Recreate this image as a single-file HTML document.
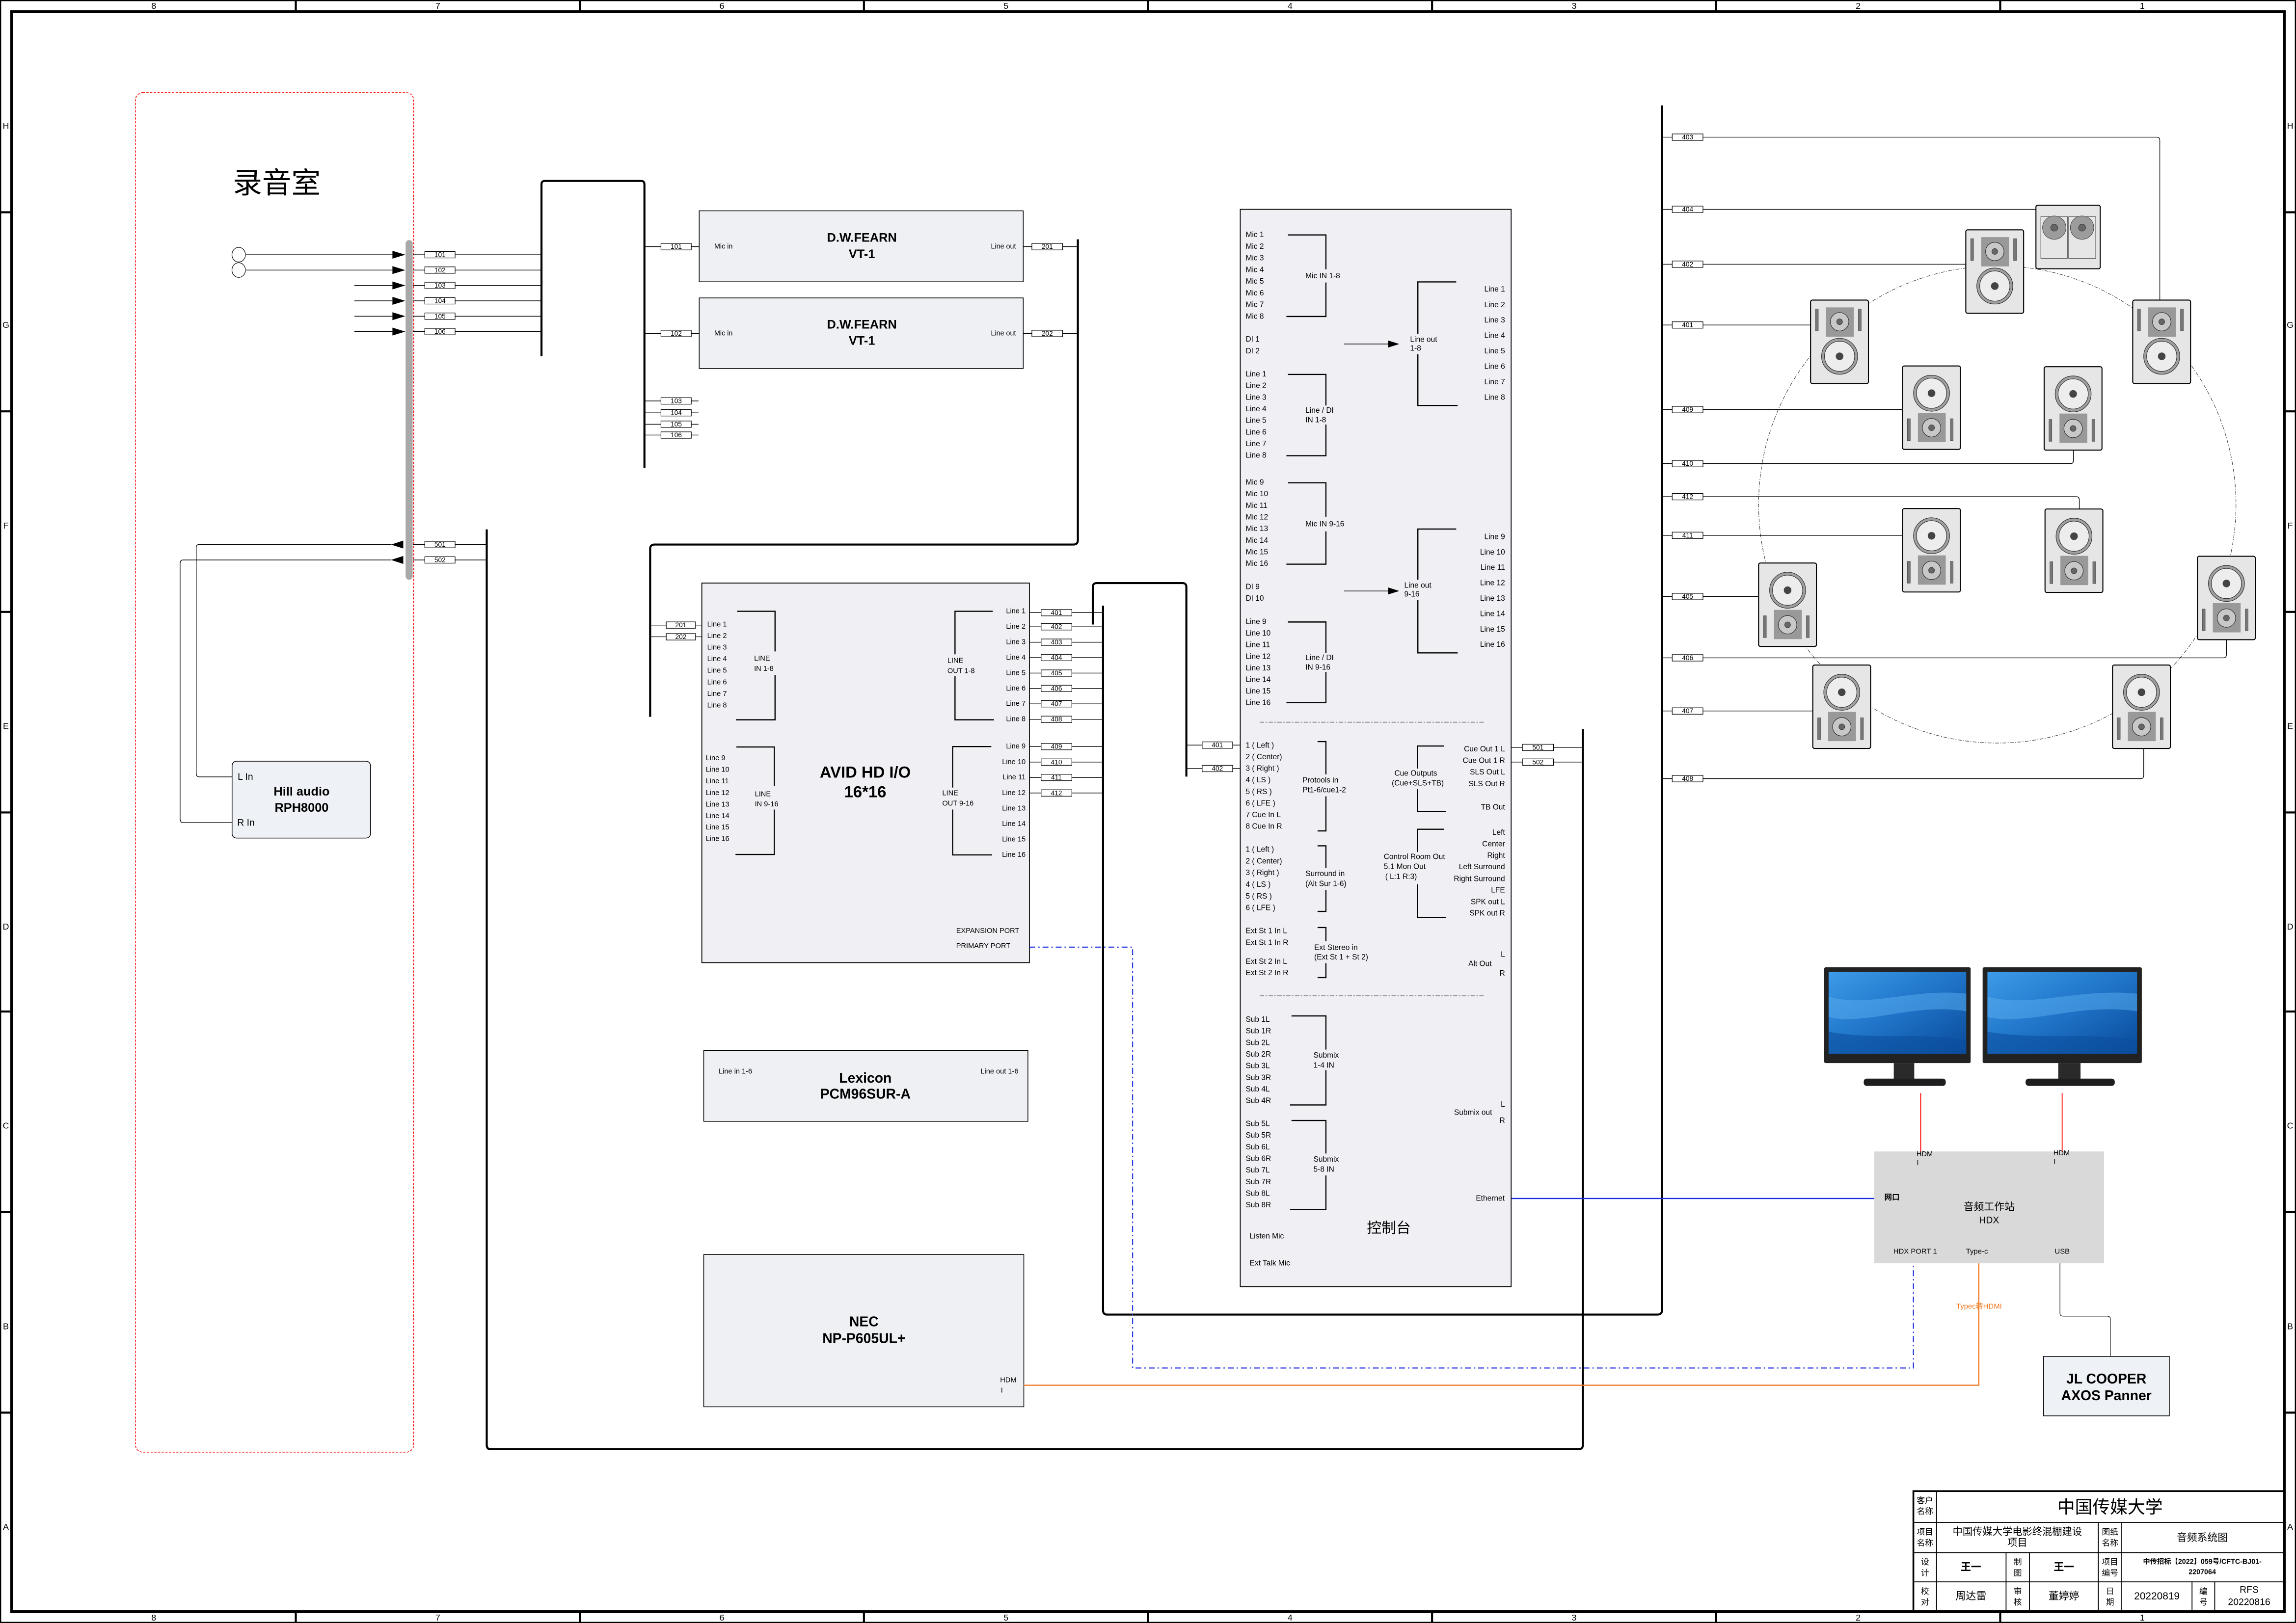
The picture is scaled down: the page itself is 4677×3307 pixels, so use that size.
<!DOCTYPE html>
<html><head><meta charset="utf-8"><style>
html,body{margin:0;padding:0;background:#fff;}
svg{display:block;}
text{font-family:"Liberation Sans","Noto Sans CJK SC",sans-serif;dominant-baseline:central;}
.s{font-size:5.2px;}
.t{font-size:4.6px;}
.b{font-weight:bold;}
</style></head><body>
<svg xmlns="http://www.w3.org/2000/svg" width="4677" height="3307" viewBox="0 0 1568 1108.7" preserveAspectRatio="none">
<defs>
<g id="spkB">
<rect x="0" y="0" width="39.5" height="57" rx="1.2" fill="#e6e6e6" stroke="#000" stroke-width="0.7"/>
<circle cx="19.8" cy="18.6" r="12.3" fill="#a0a0a0" stroke="#333" stroke-width="0.4"/>
<circle cx="19.8" cy="18.6" r="10.3" fill="#ededed" stroke="#333" stroke-width="0.4"/>
<circle cx="19.8" cy="18.6" r="2.6" fill="#444"/>
<rect x="10.5" y="32" width="19" height="20" fill="#999"/>
<circle cx="19.8" cy="42.2" r="6.3" fill="#c8c8c8" stroke="#333" stroke-width="0.4"/>
<circle cx="19.8" cy="42.2" r="2" fill="#666" stroke="#333" stroke-width="0.3"/>
<rect x="3.3" y="36" width="2" height="15" fill="#777" stroke="#333" stroke-width="0.2"/>
<rect x="32.6" y="36" width="2" height="15" fill="#777" stroke="#333" stroke-width="0.2"/>
</g>
<g id="spkA">
<rect x="0" y="0" width="39.5" height="57" rx="1.2" fill="#e6e6e6" stroke="#000" stroke-width="0.7"/>
<circle cx="19.8" cy="38.4" r="12.3" fill="#a0a0a0" stroke="#333" stroke-width="0.4"/>
<circle cx="19.8" cy="38.4" r="10.3" fill="#ededed" stroke="#333" stroke-width="0.4"/>
<circle cx="19.8" cy="38.4" r="2.6" fill="#444"/>
<rect x="10.5" y="5" width="19" height="20" fill="#999"/>
<circle cx="19.8" cy="14.8" r="6.3" fill="#c8c8c8" stroke="#333" stroke-width="0.4"/>
<circle cx="19.8" cy="14.8" r="2" fill="#666" stroke="#333" stroke-width="0.3"/>
<rect x="3.3" y="6" width="2" height="15" fill="#777" stroke="#333" stroke-width="0.2"/>
<rect x="32.6" y="6" width="2" height="15" fill="#777" stroke="#333" stroke-width="0.2"/>
</g>
<linearGradient id="scr" x1="0" y1="0" x2="1" y2="1">
<stop offset="0" stop-color="#3d9be8"/><stop offset="0.5" stop-color="#1f74c8"/><stop offset="1" stop-color="#0a4a9a"/>
</linearGradient>
<g id="mon">
<rect x="0" y="0" width="100" height="65.4" rx="1" fill="#222"/>
<rect x="3" y="3" width="94" height="56" fill="url(#scr)"/>
<path d="M3 20 C30 28 60 14 97 18 L97 30 C60 24 30 40 3 34 Z" fill="#5aaef0" opacity="0.5"/>
<path d="M3 44 C35 50 70 44 97 50 L97 59 L3 59 Z" fill="#0b4f9e" opacity="0.6"/>
<rect x="47.5" y="65.4" width="14" height="11" fill="#2a2a2a"/>
<rect x="27" y="76" width="56" height="5" rx="2" fill="#1e1e1e"/>
</g>
</defs>

<!-- frame -->
<rect x="0.4" y="0.4" width="1567.2" height="1107.9" fill="none" stroke="#000" stroke-width="0.8"/>
<rect x="8" y="8" width="1552" height="1093" fill="none" stroke="#000" stroke-width="2"/>
<g stroke="#000" stroke-width="1.4">
<path d="M202 0V8M396 0V8M590 0V8M784 0V8M978 0V8M1172 0V8M1366 0V8"/>
<path d="M202 1101V1109M396 1101V1109M590 1101V1109M784 1101V1109M978 1101V1109M1172 1101V1109M1366 1101V1109"/>
<path d="M0 145H8M0 281H8M0 418H8M0 555H8M0 691H8M0 828H8M0 965H8"/>
<path d="M1560 145H1568M1560 281H1568M1560 418H1568M1560 555H1568M1560 691H1568M1560 828H1568M1560 965H1568"/>
</g>
<g font-size="6" text-anchor="middle">
<text x="105" y="4">8</text><text x="299" y="4">7</text><text x="493" y="4">6</text><text x="687" y="4">5</text><text x="881" y="4">4</text><text x="1075" y="4">3</text><text x="1269" y="4">2</text><text x="1463" y="4">1</text>
<text x="105" y="1105">8</text><text x="299" y="1105">7</text><text x="493" y="1105">6</text><text x="687" y="1105">5</text><text x="881" y="1105">4</text><text x="1075" y="1105">3</text><text x="1269" y="1105">2</text><text x="1463" y="1105">1</text>
<text x="4" y="86">H</text><text x="4" y="222">G</text><text x="4" y="359">F</text><text x="4" y="496">E</text><text x="4" y="633">D</text><text x="4" y="769">C</text><text x="4" y="906">B</text><text x="4" y="1043">A</text>
<text x="1564" y="86">H</text><text x="1564" y="222">G</text><text x="1564" y="359">F</text><text x="1564" y="496">E</text><text x="1564" y="633">D</text><text x="1564" y="769">C</text><text x="1564" y="906">B</text><text x="1564" y="1043">A</text>
</g>

<!-- recording room -->
<rect x="92.5" y="63.3" width="190" height="928.7" rx="5" fill="none" stroke="#f00" stroke-width="0.5" stroke-dasharray="1.5,1"/>
<text x="189" y="125" font-size="20" text-anchor="middle" font-family="'Noto Sans CJK SC',sans-serif">录音室</text>
<ellipse cx="163" cy="174" rx="4.6" ry="5" fill="#fff" stroke="#000" stroke-width="0.4"/>
<ellipse cx="163" cy="184.5" rx="4.6" ry="5" fill="#fff" stroke="#000" stroke-width="0.4"/>
<g stroke="#000" stroke-width="0.45" fill="none">
<path d="M168 174H268M168 184.5H268M242 195H268M242 205.5H268M242 216H268M242 226.5H268"/>
<path d="M310.8 174H369.8M310.8 184.5H369.8M310.8 195H369.8M310.8 205.5H369.8M310.8 216H369.8M310.8 226.5H369.8"/>
<path d="M282 174H290M282 184.5H290M282 195H290M282 205.5H290M282 216H290M282 226.5H290"/>
</g>
<g fill="#000">
<path d="M268 171.3L276.8 174L268 176.7Z"/><path d="M268 181.8L276.8 184.5L268 187.2Z"/><path d="M268 192.3L276.8 195L268 197.7Z"/><path d="M268 202.8L276.8 205.5L268 208.2Z"/><path d="M268 213.3L276.8 216L268 218.7Z"/><path d="M268 223.8L276.8 226.5L268 229.2Z"/>
<path d="M275.4 369.3L267 372L275.4 374.7Z"/><path d="M275.4 379.8L267 382.5L275.4 385.2Z"/>
</g>
<rect x="277" y="164" width="4.8" height="232" rx="2.4" fill="#a9a9a9"/>
<g fill="#fff" stroke="#000" stroke-width="0.4">
<rect x="290.1" y="171.8" width="20.7" height="4.4"/><rect x="290.1" y="182.3" width="20.7" height="4.4"/><rect x="290.1" y="192.8" width="20.7" height="4.4"/><rect x="290.1" y="203.3" width="20.7" height="4.4"/><rect x="290.1" y="213.8" width="20.7" height="4.4"/><rect x="290.1" y="224.3" width="20.7" height="4.4"/>
<rect x="290.1" y="369.8" width="20.7" height="4.4"/><rect x="290.1" y="380.3" width="20.7" height="4.4"/>
</g>
<g class="t" text-anchor="middle">
<text x="300.5" y="174">101</text><text x="300.5" y="184.5">102</text><text x="300.5" y="195">103</text><text x="300.5" y="205.5">104</text><text x="300.5" y="216">105</text><text x="300.5" y="226.5">106</text>
<text x="300.5" y="372">501</text><text x="300.5" y="382.5">502</text>
</g>
<g stroke="#000" stroke-width="0.45" fill="none">
<path d="M282 372H290M282 382.5H290M310.8 372H332.4M310.8 382.5H332.4"/>
<path d="M267 372H136Q134 372 134 374V528Q134 530.7 136 530.7H158.5"/>
<path d="M267 382.5H125Q123 382.5 123 385V559Q123 562 125 562H158.5"/>
</g>
<!-- Hill audio -->
<rect x="158.5" y="520" width="94.5" height="52.5" rx="3" fill="#eef1f5" stroke="#000" stroke-width="0.5"/>
<text x="162.3" y="530.7" font-size="6.5">L In</text>
<text x="162" y="562" font-size="6.5">R In</text>
<text x="206" y="540.8" font-size="8.5" class="b" text-anchor="middle">Hill audio</text>
<text x="206" y="551.8" font-size="8.5" class="b" text-anchor="middle">RPH8000</text>

<!-- thick buses -->
<g stroke="#000" stroke-width="1.4" fill="none">
<path d="M369.8 243.4V126Q369.8 123.6 372 123.6H438Q440.1 123.6 440.1 126V319.7"/>
<path d="M736.1 163.5V369Q736.1 372 733 372H447Q444 372 444 375V489.7"/>
<path d="M332.4 361.6V987Q332.4 990 335 990H1078Q1081 990 1081 987V498"/>
<path d="M746.3 426.6V401Q746.3 398.3 749 398.3H807.5Q810.2 398.3 810.2 401V530.5"/>
<path d="M753.3 413.7V895Q753.3 898 756 898H1132Q1135 898 1135 895V72"/>
</g>

<!-- DW FEARN -->
<g stroke="#000" stroke-width="0.45" fill="none">
<path d="M440.1 168.5H451.4M472.1 168.5H477.5M440.1 227.8H451.4M472.1 227.8H477.5"/>
<path d="M698.8 168.5H704.7M725.8 168.5H736.1M698.8 227.8H704.7M725.8 227.8H736.1"/>
<path d="M440.1 273.9H451.4M472.1 273.9H477M440.1 282H451.4M472.1 282H477M440.1 289.8H451.4M472.1 289.8H477M440.1 297.2H451.4M472.1 297.2H477"/>
</g>
<rect x="477.5" y="144" width="221.3" height="48.5" fill="#eef0f4" stroke="#000" stroke-width="0.5"/>
<rect x="477.5" y="203.5" width="221.3" height="48.2" fill="#eef0f4" stroke="#000" stroke-width="0.5"/>
<g fill="#fff" stroke="#000" stroke-width="0.4">
<rect x="451.4" y="166.3" width="20.7" height="4.4"/><rect x="451.4" y="225.6" width="20.7" height="4.4"/>
<rect x="704.7" y="166.3" width="21" height="4.4"/><rect x="704.7" y="225.6" width="21" height="4.4"/>
<rect x="451.4" y="271.7" width="20.7" height="4.4"/><rect x="451.4" y="279.8" width="20.7" height="4.4"/><rect x="451.4" y="287.6" width="20.7" height="4.4"/><rect x="451.4" y="295" width="20.7" height="4.4"/>
</g>
<g class="t" text-anchor="middle">
<text x="461.8" y="168.5">101</text><text x="461.8" y="227.8">102</text><text x="715.2" y="168.5">201</text><text x="715.2" y="227.8">202</text>
<text x="461.8" y="273.9">103</text><text x="461.8" y="282">104</text><text x="461.8" y="289.8">105</text><text x="461.8" y="297.2">106</text>
</g>
<g font-size="4.8"><text x="487.8" y="168.5">Mic in</text><text x="487.8" y="227.8">Mic in</text>
<text x="693.8" y="168.5" text-anchor="end">Line out</text><text x="693.8" y="227.8" text-anchor="end">Line out</text></g>
<g font-size="8.5" class="b" text-anchor="middle">
<text x="588.6" y="162.5">D.W.FEARN</text><text x="588.6" y="173.6">VT-1</text>
<text x="588.6" y="221.8">D.W.FEARN</text><text x="588.6" y="232.9">VT-1</text>
</g>

<!-- AVID -->
<g stroke="#000" stroke-width="0.45" fill="none">
<path d="M444 427H455M475 427H479.3M444 435H455M475 435H479.3"/>
<path d="M703 418.5H711M732 418.5H753.3M703 428.2H711M732 428.2H753.3M703 438.7H711M732 438.7H753.3M703 449.2H711M732 449.2H753.3M703 459.8H711M732 459.8H753.3M703 470.3H711M732 470.3H753.3M703 480.8H711M732 480.8H753.3M703 491.4H711M732 491.4H753.3"/>
<path d="M703 510H711M732 510H753.3M703 520.6H711M732 520.6H753.3M703 531.1H711M732 531.1H753.3M703 541.7H711M732 541.7H753.3"/>
</g>
<rect x="479.3" y="398.3" width="223.7" height="259.3" fill="#f0eff3" stroke="#000" stroke-width="0.6"/>
<g fill="#fff" stroke="#000" stroke-width="0.4">
<rect x="455" y="424.8" width="20" height="4.4"/><rect x="455" y="432.8" width="20" height="4.4"/>
<rect x="711" y="416.3" width="21" height="4.4"/><rect x="711" y="426" width="21" height="4.4"/><rect x="711" y="436.5" width="21" height="4.4"/><rect x="711" y="447" width="21" height="4.4"/><rect x="711" y="457.6" width="21" height="4.4"/><rect x="711" y="468.1" width="21" height="4.4"/><rect x="711" y="478.6" width="21" height="4.4"/><rect x="711" y="489.2" width="21" height="4.4"/>
<rect x="711" y="507.8" width="21" height="4.4"/><rect x="711" y="518.4" width="21" height="4.4"/><rect x="711" y="528.9" width="21" height="4.4"/><rect x="711" y="539.5" width="21" height="4.4"/>
</g>
<g class="t" text-anchor="middle">
<text x="465" y="427">201</text><text x="465" y="435">202</text>
<text x="721.5" y="418.5">401</text><text x="721.5" y="428.2">402</text><text x="721.5" y="438.7">403</text><text x="721.5" y="449.2">404</text><text x="721.5" y="459.8">405</text><text x="721.5" y="470.3">406</text><text x="721.5" y="480.8">407</text><text x="721.5" y="491.4">408</text>
<text x="721.5" y="510">409</text><text x="721.5" y="520.6">410</text><text x="721.5" y="531.1">411</text><text x="721.5" y="541.7">412</text>
</g>
<g font-size="4.9">
<text x="483" y="426.6">Line 1</text><text x="483" y="434.5">Line 2</text><text x="483" y="442.4">Line 3</text><text x="483" y="450.3">Line 4</text><text x="483" y="458.2">Line 5</text><text x="483" y="466.1">Line 6</text><text x="483" y="474">Line 7</text><text x="483" y="481.9">Line 8</text>
<text x="482" y="518">Line 9</text><text x="482" y="525.9">Line 10</text><text x="482" y="533.8">Line 11</text><text x="482" y="541.7">Line 12</text><text x="482" y="549.6">Line 13</text><text x="482" y="557.5">Line 14</text><text x="482" y="565.3">Line 15</text><text x="482" y="573.2">Line 16</text>
</g>
<g font-size="4.9" text-anchor="end">
<text x="700.4" y="417.6">Line 1</text><text x="700.4" y="428.1">Line 2</text><text x="700.4" y="438.7">Line 3</text><text x="700.4" y="449.2">Line 4</text><text x="700.4" y="459.8">Line 5</text><text x="700.4" y="470.3">Line 6</text><text x="700.4" y="480.8">Line 7</text><text x="700.4" y="491.4">Line 8</text>
<text x="700.4" y="510">Line 9</text><text x="700.4" y="520.6">Line 10</text><text x="700.4" y="531.1">Line 11</text><text x="700.4" y="541.7">Line 12</text><text x="700.4" y="552.3">Line 13</text><text x="700.4" y="562.9">Line 14</text><text x="700.4" y="573.4">Line 15</text><text x="700.4" y="584">Line 16</text>
</g>
<g stroke="#000" stroke-width="0.8" fill="none">
<path d="M503.4 417.6H529.3V445M529.3 461V491.7H502.6"/>
<path d="M502.9 510.3H528.8V537M528.8 553V583.7H502.3"/>
<path d="M678 417.6H652.2V447M652.2 462V491.7H678.8"/>
<path d="M677 510H650.6V538M650.6 553V584H677.5"/>
</g>
<g font-size="4.9">
<text x="515" y="450">LINE</text><text x="515" y="457">IN 1-8</text>
<text x="515.5" y="542.7">LINE</text><text x="515.5" y="549.5">IN 9-16</text>
<text x="647" y="451.5">LINE</text><text x="647" y="458.5">OUT 1-8</text>
<text x="643.5" y="542">LINE</text><text x="643.5" y="549">OUT 9-16</text>
<text x="653" y="636">EXPANSION PORT</text><text x="653" y="646.3">PRIMARY PORT</text>
</g>
<text x="590.9" y="527.3" font-size="11" class="b" text-anchor="middle">AVID HD I/O</text>
<text x="590.9" y="540.8" font-size="11" class="b" text-anchor="middle">16*16</text>

<!-- Lexicon & NEC -->
<rect x="480.6" y="717.6" width="221.4" height="48.4" fill="#eef0f4" stroke="#000" stroke-width="0.5"/>
<text x="490.8" y="732" font-size="4.9">Line in 1-6</text>
<text x="695.5" y="732" font-size="4.9" text-anchor="end">Line out 1-6</text>
<text x="591" y="736.5" font-size="9.5" class="b" text-anchor="middle">Lexicon</text>
<text x="591" y="747.5" font-size="9.5" class="b" text-anchor="middle">PCM96SUR-A</text>
<rect x="480.6" y="857" width="218.6" height="104" fill="#eef0f4" stroke="#000" stroke-width="0.5"/>
<text x="590" y="903" font-size="9.5" class="b" text-anchor="middle">NEC</text>
<text x="590" y="914.5" font-size="9.5" class="b" text-anchor="middle">NP-P605UL+</text>
<text x="683" y="943" font-size="4.9">HDM</text><text x="683.5" y="950" font-size="4.9">I</text>

<!-- colored cables -->
<path d="M703 647H773.5V934.5H1306.7V863" fill="none" stroke="#1a2be0" stroke-width="0.7" stroke-dasharray="4,2,1,2"/>
<path d="M699.2 946.3H1351.4V863" fill="none" stroke="#f07820" stroke-width="0.8"/>
<path d="M1032 818.7H1280" fill="none" stroke="#1a2be0" stroke-width="0.8"/>
<text x="1336" y="892.6" font-size="5" fill="#f07820">Typec转HDMI</text>

<!-- console -->
<g stroke="#000" stroke-width="0.45" fill="none">
<path d="M810.2 509H821M841.8 509H847M810.2 525H821M841.8 525H847"/>
<path d="M1032 510.6H1039.7M1060.9 510.6H1081M1032 520.6H1039.7M1060.9 520.6H1081"/>
</g>
<rect x="847" y="143" width="185" height="736" fill="#f0eff4" stroke="#000" stroke-width="0.6"/>
<g fill="#fff" stroke="#000" stroke-width="0.4">
<rect x="821" y="506.8" width="20.8" height="4.4"/><rect x="821" y="522.8" width="20.8" height="4.4"/>
<rect x="1039.7" y="508.4" width="21.2" height="4.4"/><rect x="1039.7" y="518.4" width="21.2" height="4.4"/>
</g>
<g class="t" text-anchor="middle">
<text x="831.4" y="509">401</text><text x="831.4" y="525">402</text><text x="1050.3" y="510.6">501</text><text x="1050.3" y="520.6">502</text>
</g>
<g class="s">
<text x="850.7" y="160.5">Mic 1</text><text x="850.7" y="168.5">Mic 2</text><text x="850.7" y="176.4">Mic 3</text><text x="850.7" y="184.4">Mic 4</text><text x="850.7" y="192.3">Mic 5</text><text x="850.7" y="200.3">Mic 6</text><text x="850.7" y="208.2">Mic 7</text><text x="850.7" y="216.2">Mic 8</text>
<text x="850.7" y="231.8">DI 1</text><text x="850.7" y="239.8">DI 2</text>
<text x="850.7" y="255.7">Line 1</text><text x="850.7" y="263.6">Line 2</text><text x="850.7" y="271.5">Line 3</text><text x="850.7" y="279.5">Line 4</text><text x="850.7" y="287.4">Line 5</text><text x="850.7" y="295.3">Line 6</text><text x="850.7" y="303.2">Line 7</text><text x="850.7" y="311.1">Line 8</text>
<text x="850.7" y="329.6">Mic 9</text><text x="850.7" y="337.5">Mic 10</text><text x="850.7" y="345.5">Mic 11</text><text x="850.7" y="353.4">Mic 12</text><text x="850.7" y="361.3">Mic 13</text><text x="850.7" y="369.3">Mic 14</text><text x="850.7" y="377.2">Mic 15</text><text x="850.7" y="385.1">Mic 16</text>
<text x="850.7" y="400.9">DI 9</text><text x="850.7" y="408.9">DI 10</text>
<text x="850.7" y="424.8">Line 9</text><text x="850.7" y="432.7">Line 10</text><text x="850.7" y="440.6">Line 11</text><text x="850.7" y="448.5">Line 12</text><text x="850.7" y="456.4">Line 13</text><text x="850.7" y="464.3">Line 14</text><text x="850.7" y="472.2">Line 15</text><text x="850.7" y="480.1">Line 16</text>
<text x="850.7" y="509.2">1 ( Left )</text><text x="850.7" y="517.1">2 ( Center)</text><text x="850.7" y="525">3 ( Right )</text><text x="850.7" y="532.9">4 ( LS )</text><text x="850.7" y="540.9">5 ( RS )</text><text x="850.7" y="548.8">6 ( LFE )</text><text x="850.7" y="556.7">7 Cue In L</text><text x="850.7" y="564.6">8 Cue In R</text>
<text x="850.7" y="580.3">1 ( Left )</text><text x="850.7" y="588.3">2 ( Center)</text><text x="850.7" y="596.3">3 ( Right )</text><text x="850.7" y="604.3">4 ( LS )</text><text x="850.7" y="612.3">5 ( RS )</text><text x="850.7" y="620.3">6 ( LFE )</text>
<text x="850.7" y="636">Ext St 1 In L</text><text x="850.7" y="644">Ext St 1 In R</text><text x="850.7" y="657">Ext St 2 In L</text><text x="850.7" y="664.7">Ext St 2 In R</text>
<text x="850.7" y="696.5">Sub 1L</text><text x="850.7" y="704.4">Sub 1R</text><text x="850.7" y="712.4">Sub 2L</text><text x="850.7" y="720.3">Sub 2R</text><text x="850.7" y="728.2">Sub 3L</text><text x="850.7" y="736.2">Sub 3R</text><text x="850.7" y="744.1">Sub 4L</text><text x="850.7" y="752">Sub 4R</text>
<text x="850.7" y="767.8">Sub 5L</text><text x="850.7" y="775.7">Sub 5R</text><text x="850.7" y="783.6">Sub 6L</text><text x="850.7" y="791.6">Sub 6R</text><text x="850.7" y="799.5">Sub 7L</text><text x="850.7" y="807.4">Sub 7R</text><text x="850.7" y="815.3">Sub 8L</text><text x="850.7" y="823.2">Sub 8R</text>
<text x="853.4" y="844.6">Listen Mic</text><text x="853.4" y="863">Ext Talk Mic</text>
<text x="891.5" y="188.6">Mic IN 1-8</text>
<text x="891.5" y="280.5">Line / DI</text><text x="891.5" y="287">IN 1-8</text>
<text x="891.5" y="358">Mic IN 9-16</text>
<text x="891.5" y="449.5">Line / DI</text><text x="891.5" y="456">IN 9-16</text>
<text x="889.5" y="533.1">Protools in</text><text x="889.5" y="539.7">Pt1-6/cue1-2</text>
<text x="891.5" y="597">Surround in</text><text x="891.5" y="603.8">(Alt  Sur 1-6)</text>
<text x="897.5" y="647.4">Ext Stereo in</text><text x="897.5" y="654">(Ext St 1 + St 2)</text>
<text x="897" y="721">Submix</text><text x="897" y="727.8">1-4 IN</text>
<text x="897" y="792">Submix</text><text x="897" y="799">5-8 IN</text>
<text x="963" y="232">Line out</text><text x="963" y="238">1-8</text>
<text x="959" y="400">Line out</text><text x="959" y="406">9-16</text>
<text x="952.3" y="528.4">Cue Outputs</text><text x="950.5" y="535">(Cue+SLS+TB)</text>
<text x="945" y="585.4">Control Room Out</text><text x="945" y="592">5.1 Mon Out</text><text x="946" y="599">( L:1 R:3)</text>
<text x="1002.8" y="658.5">Alt Out</text>
<text x="993" y="760">Submix out</text>
<text x="1007.9" y="818.7">Ethernet</text>
</g>
<g class="s" text-anchor="end">
<text x="1027.8" y="197.7">Line 1</text><text x="1027.8" y="208.3">Line 2</text><text x="1027.8" y="218.8">Line 3</text><text x="1027.8" y="229.4">Line 4</text><text x="1027.8" y="239.9">Line 5</text><text x="1027.8" y="250.5">Line 6</text><text x="1027.8" y="261">Line 7</text><text x="1027.8" y="271.6">Line 8</text>
<text x="1027.8" y="366.8">Line 9</text><text x="1027.8" y="377.3">Line 10</text><text x="1027.8" y="387.8">Line 11</text><text x="1027.8" y="398.3">Line 12</text><text x="1027.8" y="408.9">Line 13</text><text x="1027.8" y="419.4">Line 14</text><text x="1027.8" y="429.9">Line 15</text><text x="1027.8" y="440.4">Line 16</text>
<text x="1027.8" y="511.7">Cue Out 1 L</text><text x="1027.8" y="519.7">Cue Out 1 R</text><text x="1027.8" y="527.6">SLS Out  L</text><text x="1027.8" y="535.6">SLS Out  R</text><text x="1027.8" y="551.5">TB Out</text>
<text x="1027.8" y="568.7">Left</text><text x="1027.8" y="576.6">Center</text><text x="1027.8" y="584.6">Right</text><text x="1027.8" y="592.3">Left Surround</text><text x="1027.8" y="600.5">Right Surround</text><text x="1027.8" y="608.2">LFE</text><text x="1027.8" y="616.2">SPK out  L</text><text x="1027.8" y="624">SPK out  R</text>
<text x="1027.8" y="652">L</text><text x="1027.8" y="665">R</text>
<text x="1027.8" y="754.5">L</text><text x="1027.8" y="765.6">R</text>
</g>
<text x="933.5" y="839" font-size="10" font-family="'Noto Sans CJK SC',sans-serif">控制台</text>
<g stroke="#000" stroke-width="0.8" fill="none">
<path d="M879.6 160.5H905.5V184M905.5 193V216.2H878.5"/>
<path d="M879.6 255.8H905.5V277M905.5 290V311.3H878.5"/>
<path d="M879.6 329.8H905.5V353M905.5 363V385.4H878.5"/>
<path d="M879.6 424.9H905.5V446M905.5 459V480H878.5"/>
<path d="M899.8 506.6H905.5V529M905.5 544V567.6H899.8"/>
<path d="M899.8 577.8H905.5V593M905.5 608V622.6H899.8"/>
<path d="M899.8 633.6H905.5V643M905.5 658V667.8H899.8"/>
<path d="M882 694H905.5V717M905.5 731V754.8H881"/>
<path d="M882 765.4H905.5V788M905.5 803V826.3H881"/>
<path d="M994.5 192.6H968.3V228M968.3 242V277H995.5"/>
<path d="M994.5 361.4H968.3V396M968.3 410V446H995.5"/>
<path d="M986.3 509.6H968V525M968 539V554.4H987.5"/>
<path d="M986.3 566.5H968V582M968 604V626.7H987.5"/>
</g>
<g stroke="#000" stroke-width="0.45">
<path d="M917.9 235H950M917.9 403.7H950"/>
</g>
<path d="M948 232.6L955.6 235L948 237.4Z M948 401.3L955.6 403.7L948 406.1Z" fill="#000"/>
<g stroke="#000" stroke-width="0.35" stroke-dasharray="3,1,1,1">
<path d="M860.3 493.3H1013.5M860.3 680.3H1013.5"/>
</g>

<!-- speakers wiring -->
<circle cx="1364" cy="344.6" r="163" fill="none" stroke="#333" stroke-width="0.35" stroke-dasharray="2.5,1,0.6,1"/>
<g stroke="#000" stroke-width="0.45" fill="none">
<path d="M1135 93.7H1142M1163 93.7H1473Q1475 93.7 1475 96V205"/>
<path d="M1135 143H1142M1163 143H1390.4"/>
<path d="M1135 180.5H1142M1163 180.5H1342.7"/>
<path d="M1135 222H1142M1163 222H1236.5"/>
<path d="M1135 279.8H1142M1163 279.8H1299.3"/>
<path d="M1135 316.7H1142M1163 316.7H1414Q1416 316.7 1416 314.5V307.4"/>
<path d="M1135 339.3H1142M1163 339.3H1418Q1420 339.3 1420 341.5V347.7"/>
<path d="M1135 365.7H1142M1163 365.7H1299.3"/>
<path d="M1135 407.5H1142M1163 407.5H1201"/>
<path d="M1135 449.4H1142M1163 449.4H1518.5Q1520.5 449.4 1520.5 447V437"/>
<path d="M1135 485.7H1142M1163 485.7H1238"/>
<path d="M1135 531.9H1142M1163 531.9H1462Q1464 531.9 1464 529.5V511.4"/>
</g>
<g fill="#fff" stroke="#000" stroke-width="0.4">
<rect x="1142" y="91.5" width="21" height="4.4"/><rect x="1142" y="140.8" width="21" height="4.4"/><rect x="1142" y="178.3" width="21" height="4.4"/><rect x="1142" y="219.8" width="21" height="4.4"/><rect x="1142" y="277.6" width="21" height="4.4"/><rect x="1142" y="314.5" width="21" height="4.4"/><rect x="1142" y="337.1" width="21" height="4.4"/><rect x="1142" y="363.5" width="21" height="4.4"/><rect x="1142" y="405.3" width="21" height="4.4"/><rect x="1142" y="447.2" width="21" height="4.4"/><rect x="1142" y="483.5" width="21" height="4.4"/><rect x="1142" y="529.7" width="21" height="4.4"/>
</g>
<g class="t" text-anchor="middle">
<text x="1152.5" y="93.7">403</text><text x="1152.5" y="143">404</text><text x="1152.5" y="180.5">402</text><text x="1152.5" y="222">401</text><text x="1152.5" y="279.8">409</text><text x="1152.5" y="316.7">410</text><text x="1152.5" y="339.3">412</text><text x="1152.5" y="365.7">411</text><text x="1152.5" y="407.5">405</text><text x="1152.5" y="449.4">406</text><text x="1152.5" y="485.7">407</text><text x="1152.5" y="531.9">408</text>
</g>
<use href="#spkA" x="1342.5" y="157"/>
<use href="#spkA" x="1236.5" y="205"/>
<use href="#spkA" x="1456.5" y="205"/>
<use href="#spkB" x="1299.3" y="250"/>
<use href="#spkB" x="1396" y="250.5"/>
<use href="#spkB" x="1299.3" y="347.4"/>
<use href="#spkB" x="1396.6" y="347.7"/>
<use href="#spkB" x="1201" y="384.6"/>
<use href="#spkB" x="1500.7" y="380"/>
<use href="#spkB" x="1238" y="454.3"/>
<use href="#spkB" x="1442.7" y="454.3"/>
<g>
<rect x="1390.4" y="140.2" width="43.9" height="43.4" rx="1.2" fill="#e6e6e6" stroke="#000" stroke-width="0.7"/>
<rect x="1393.7" y="148" width="18.3" height="28.5" fill="#e6e6e6" stroke="#444" stroke-width="0.3"/>
<rect x="1412.7" y="148" width="18.5" height="28.5" fill="#e6e6e6" stroke="#444" stroke-width="0.3"/>
<circle cx="1402.9" cy="155.5" r="8" fill="#9c9c9c" stroke="#333" stroke-width="0.3"/>
<circle cx="1402.9" cy="155.5" r="2.4" fill="#666" stroke="#333" stroke-width="0.3"/>
<circle cx="1421.9" cy="155.5" r="8" fill="#9c9c9c" stroke="#333" stroke-width="0.3"/>
<circle cx="1421.9" cy="155.5" r="2.4" fill="#666" stroke="#333" stroke-width="0.3"/>
</g>

<!-- monitors & workstation -->
<use href="#mon" x="1245.8" y="660.8"/>
<use href="#mon" x="1354" y="660.8" transform="translate(1354 660.8) scale(1.087 1) translate(-1354 -660.8)"/>
<path d="M1311.7 746.7V787M1408.3 746.7V787" stroke="#f00" stroke-width="0.6"/>
<rect x="1279.9" y="786.6" width="157" height="76.4" fill="#d9d9d9"/>
<text x="1308.8" y="788.6" font-size="4.9">HDM</text><text x="1309" y="794.5" font-size="4.9">I</text>
<text x="1402.3" y="787.8" font-size="4.9">HDM</text><text x="1402.5" y="793.8" font-size="4.9">I</text>
<text x="1286.9" y="818" font-size="5.2" class="b" font-family="'Noto Sans CJK SC',sans-serif">网口</text>
<text x="1358.4" y="824.5" font-size="7" text-anchor="middle" font-family="'Noto Serif CJK SC',serif">音频工作站</text>
<text x="1358.4" y="833.7" font-size="6.5" text-anchor="middle" font-family="'Liberation Serif',serif">HDX</text>
<text x="1293" y="855" font-size="5">HDX PORT 1</text>
<text x="1342.6" y="855" font-size="5">Type-c</text>
<text x="1403.2" y="855" font-size="5">USB</text>
<path d="M1406.8 863V897Q1406.8 899.1 1409 899.1H1439Q1441.2 899.1 1441.2 901V926.6" fill="none" stroke="#000" stroke-width="0.4"/>
<rect x="1395.6" y="926.6" width="85.9" height="40.6" fill="#eef1f5" stroke="#000" stroke-width="0.5"/>
<text x="1438.5" y="942" font-size="9.5" class="b" text-anchor="middle">JL COOPER</text>
<text x="1438.5" y="953.5" font-size="9.5" class="b" text-anchor="middle">AXOS Panner</text>

<!-- title block -->
<rect x="1306.7" y="1018.6" width="253" height="82" fill="#fff" stroke="#000" stroke-width="1.2"/>
<g stroke="#000" stroke-width="0.6" fill="none">
<path d="M1306.7 1040H1559.7M1306.7 1060.7H1559.7M1306.7 1080.6H1559.7"/>
<path d="M1322.5 1018.6V1100M1433 1040V1100M1449 1040V1100M1370 1060.7V1100M1386 1060.7V1100M1497 1080.6V1100M1512.5 1080.6V1100"/>
</g>
<g font-size="5.6" text-anchor="middle" font-family="'Noto Sans CJK SC',sans-serif">
<text x="1314.6" y="1025">客户</text><text x="1314.6" y="1032.5">名称</text>
<text x="1314.6" y="1046.5">项目</text><text x="1314.6" y="1054">名称</text>
<text x="1314.6" y="1067">设</text><text x="1314.6" y="1074.5">计</text>
<text x="1314.6" y="1087">校</text><text x="1314.6" y="1094.5">对</text>
<text x="1378" y="1067">制</text><text x="1378" y="1074.5">图</text>
<text x="1378" y="1087">审</text><text x="1378" y="1094.5">核</text>
<text x="1441" y="1046.5">图纸</text><text x="1441" y="1054">名称</text>
<text x="1441" y="1067">项目</text><text x="1441" y="1074.5">编号</text>
<text x="1441" y="1087">日</text><text x="1441" y="1094.5">期</text>
<text x="1504.7" y="1087">编</text><text x="1504.7" y="1094.5">号</text>
</g>
<text x="1441" y="1029.5" font-size="12" text-anchor="middle" font-family="'Noto Sans CJK SC',sans-serif">中国传媒大学</text>
<g font-family="'Noto Sans CJK SC',sans-serif" text-anchor="middle">
<text x="1377.7" y="1046.5" font-size="6.8">中国传媒大学电影终混棚建设</text>
<text x="1377.7" y="1054" font-size="6.8">项目</text>
<text x="1504" y="1050.5" font-size="7">音频系统图</text>
<text x="1346" y="1070.7" font-size="7" class="b">王一</text>
<text x="1409.5" y="1070.7" font-size="7" class="b">王一</text>
<text x="1504" y="1067" font-size="4.8" class="b">中传招标【2022】059号/CFTC-BJ01-</text>
<text x="1504" y="1074" font-size="4.8" class="b">2207064</text>
<text x="1346" y="1090.5" font-size="7">周达雷</text>
<text x="1409.5" y="1090.5" font-size="7">董婷婷</text>
</g>
<text x="1473" y="1090.5" font-size="7" text-anchor="middle">20220819</text>
<text x="1536" y="1086" font-size="6.5" text-anchor="middle">RFS</text>
<text x="1536" y="1094.5" font-size="6.5" text-anchor="middle">20220816</text>
</svg>
</body></html>
